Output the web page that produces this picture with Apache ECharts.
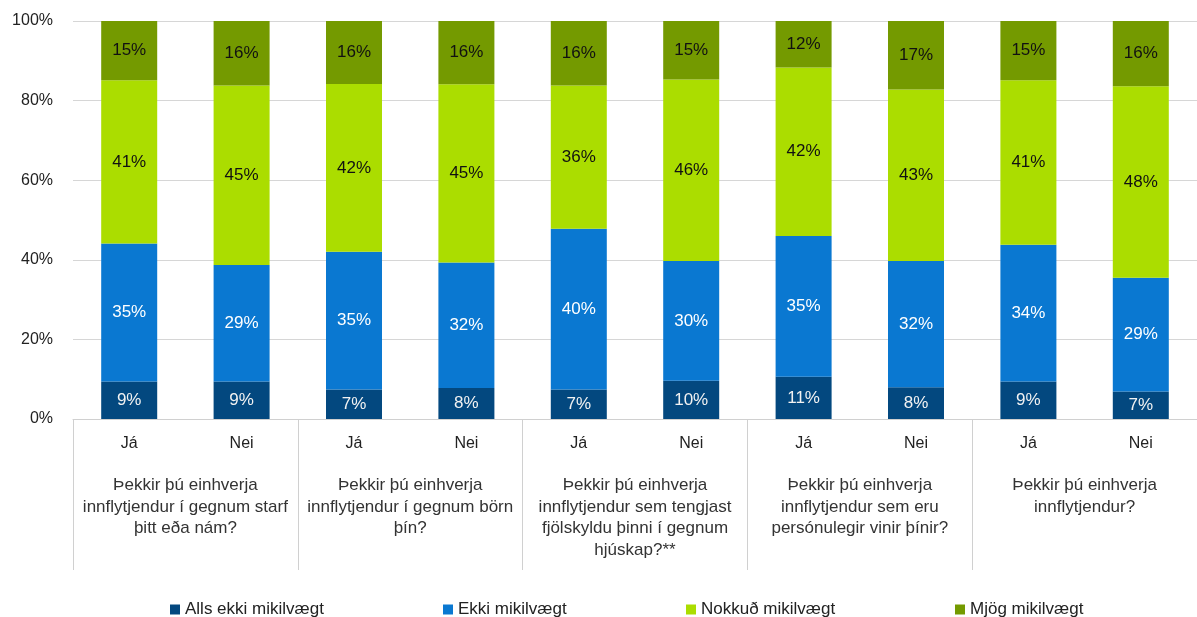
<!DOCTYPE html>
<html>
<head>
<meta charset="utf-8">
<script src="https://cdn.jsdelivr.net/npm/echarts@6/dist/echarts.min.js"></script>
<style>
html, body { margin: 0; padding: 0; background: #fff; }
#chart { width: 1197px; height: 617px; }
</style>
</head>
<body>
<div id="chart"></div>
<script>
// categories
const answers = ["Já", "Nei", "Já", "Nei", "Já", "Nei", "Já", "Nei", "Já", "Nei"];
const questions = [
  "Þekkir þú einhverja\ninnflytjendur í gegnum starf\nþitt eða nám?",
  "Þekkir þú einhverja\ninnflytjendur í gegnum börn\nþín?",
  "Þekkir þú einhverja\ninnflytjendur sem tengjast\nfjölskyldu þinni í gegnum\nhjúskap?**",
  "Þekkir þú einhverja\ninnflytjendur sem eru\npersónulegir vinir þínir?",
  "Þekkir þú einhverja\ninnflytjendur?"
];
const yTicks = [0, 20, 40, 60, 80, 100];

// series values (%)
const allsEkki = [9.4, 9.4, 7.4, 7.8, 7.4, 9.6, 10.6, 8.0, 9.4, 6.9];
const ekki = [34.7, 29.3, 34.6, 31.5, 40.4, 30.1, 35.4, 31.7, 34.4, 28.6];
const nokkud = [41.0, 45.1, 42.2, 44.8, 36.0, 45.6, 42.3, 43.1, 41.3, 48.1];
const mjog = [14.9, 16.2, 15.8, 15.9, 16.2, 14.7, 11.7, 17.2, 14.9, 16.4];

const seriesNames = ["Alls ekki mikilvægt", "Ekki mikilvægt", "Nokkuð mikilvægt", "Mjög mikilvægt"];
const seriesData = [allsEkki, ekki, nokkud, mjog];
const colors = ["#03487f", "#0a78d1", "#abdd00", "#749a00"];
const labelColors = ["#f2f2f2", "#ffffff", "#111111", "#111111"];
const legendLeft = [165, 438, 681, 950];

const font = "Liberation Sans";
const chart = echarts.init(document.getElementById("chart"));

const option = {
  animation: false,
  textStyle: { fontFamily: font },
  grid: { left: 73, right: 0, top: 21, bottom: 198 },
  legend: seriesNames.map((name, i) => ({
    data: [name],
    left: legendLeft[i],
    top: 596,
    icon: "rect",
    itemWidth: 10,
    itemHeight: 10,
    itemGap: 6,
    textStyle: { fontFamily: font, fontSize: 17, color: "#222" }
  })),
  xAxis: [
    {
      type: "category",
      data: answers,
      axisLine: { show: true, lineStyle: { color: "#d0d0d0", width: 1 } },
      axisTick: { show: false },
      axisLabel: { fontFamily: font, fontSize: 16, color: "#222", margin: 17 }
    },
    {
      type: "category",
      data: questions,
      position: "bottom",
      axisLine: { show: false },
      axisTick: { show: true, length: 151, lineStyle: { color: "#d0d0d0", width: 1 } },
      axisLabel: {
        fontFamily: font, fontSize: 17, color: "#333",
        margin: 56, lineHeight: 21.5, interval: 0, align: "center", verticalAlign: "top"
      }
    }
  ],
  yAxis: {
    type: "value",
    min: yTicks[0],
    max: yTicks[yTicks.length - 1],
    interval: 20,
    axisLine: { show: false },
    axisTick: { show: false },
    splitLine: { lineStyle: { color: "#d6d6d6", width: 1 } },
    axisLabel: { fontFamily: font, fontSize: 16, color: "#222", margin: 20, formatter: "{value}%" }
  },
  series: seriesNames.map((name, i) => ({
    name: name,
    type: "bar",
    stack: "total",
    xAxisIndex: 0,
    barWidth: 56,
    data: seriesData[i],
    itemStyle: { color: colors[i] },
    label: {
      show: true,
      position: "inside",
      fontFamily: font,
      fontSize: 17,
      color: labelColors[i],
      formatter: p => Math.round(p.value) + "%"
    }
  }))
};

chart.setOption(option);
</script>
</body>
</html>
